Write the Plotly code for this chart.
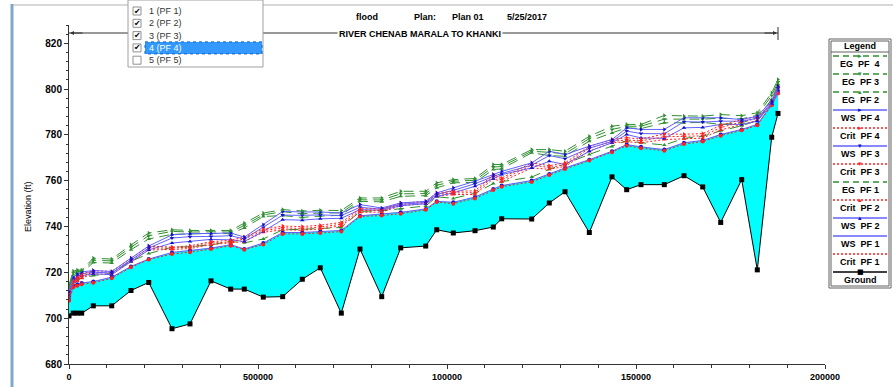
"""HEC-RAS style water surface profile: River Chenab, Marala to Khanki."""

import plotly.graph_objects as go

# ---- data ----
stations = [0, 1140, 2200, 3360, 6430, 11300, 16400, 21090, 27250, 32010, 37570, 42780, 46380, 51400,
            56530, 61720, 66480, 72040, 76980, 82730, 87750, 94370, 97280, 101670, 107410, 112250,
            114470, 122410, 127060, 131220, 137650, 143650, 147540, 151320, 157490, 162700, 167650,
            172410, 177960, 182090, 185900, 187570]

ground = [701.0, 702.2, 702.2, 702.2, 705.4, 705.4, 712.1, 715.6, 695.4, 697.5, 716.3, 712.7, 712.7, 709.2,
          709.4, 717.0, 722.0, 702.2, 730.2, 709.4, 730.7, 731.5, 738.6, 737.2, 738.2, 739.8,
          743.4, 743.3, 750.3, 755.2, 737.4, 761.7, 756.1, 758.3, 758.3, 762.2, 757.3,
          741.8, 760.5, 721.1, 779.0, 789.4]

ws_pf1 = [708.0, 714.1, 714.8, 715.4, 716.0, 717.9, 722.6, 725.8, 728.7, 729.6, 730.6, 732.1, 730.2, 732.8,
          737.4, 737.4, 737.9, 738.3, 744.7, 745.5, 746.2, 747.7, 751.0, 750.6, 752.9, 756.4,
          757.9, 760.1, 763.0, 765.6, 769.2, 772.9, 775.8, 774.8, 773.6, 776.6, 777.6,
          780.2, 782.4, 784.6, 793.3, 798.4]
ws_pf2 = [709.6, 716.0, 717.4, 718.5, 719.4, 719.0, 724.7, 729.8, 732.8, 733.5, 734.4, 734.2, 733.5, 737.9,
          743.0, 742.8, 743.4, 743.6, 747.4, 747.1, 749.1, 750.0, 753.2, 754.7, 757.6, 760.9,
          762.7, 765.6, 768.5, 767.1, 772.9, 776.6, 780.2, 778.7, 778.5, 783.1, 783.3,
          784.6, 784.6, 786.0, 793.6, 799.5]
ws_pf3 = [710.5, 716.9, 718.3, 719.4, 720.1, 719.7, 725.4, 730.6, 735.0, 735.6, 735.7, 736.0, 734.6, 739.6,
          745.0, 744.9, 745.1, 744.8, 748.4, 747.6, 749.7, 750.5, 754.0, 755.8, 758.7, 761.9,
          763.2, 766.8, 771.0, 769.6, 774.2, 777.2, 781.7, 780.6, 780.5, 785.8, 785.6,
          786.0, 786.0, 787.3, 794.1, 800.4]
ws_pf4 = [711.5, 717.8, 719.2, 720.2, 720.8, 720.4, 726.2, 731.5, 736.4, 736.9, 737.0, 737.2, 735.4, 740.8,
          746.6, 746.4, 746.4, 745.9, 749.6, 748.1, 750.3, 751.0, 754.7, 756.9, 759.8, 762.7,
          764.1, 767.8, 772.9, 771.4, 775.1, 778.0, 783.1, 782.4, 782.4, 787.5, 787.5,
          787.5, 786.7, 788.2, 794.8, 801.3]

eg_pf1 = [710.0, 716.5, 717.0, 717.4, 718.6, 719.6, 724.8, 728.2, 731.0, 731.2, 732.0, 733.5, 732.9, 734.6,
          738.6, 738.8, 739.2, 739.6, 746.6, 746.9, 747.8, 749.0, 753.0, 752.3, 754.5, 758.8,
          759.6, 761.6, 765.0, 767.3, 771.5, 775.0, 777.5, 776.6, 775.6, 778.5, 779.4,
          781.8, 784.0, 786.3, 794.4, 799.8]
eg_pf2 = [713.0, 719.0, 719.6, 719.8, 724.3, 724.1, 729.9, 734.6, 736.6, 736.8, 737.0, 736.9, 739.4, 744.4,
          744.8, 744.0, 744.6, 744.9, 751.0, 750.8, 753.2, 753.5, 756.9, 759.1, 759.3, 764.9,
          765.2, 772.2, 771.0, 770.7, 777.3, 780.9, 783.1, 782.8, 785.3, 785.3, 785.5,
          784.6, 785.3, 787.5, 795.5, 802.1]
eg_pf3 = [713.8, 719.8, 720.3, 720.4, 725.3, 725.0, 731.0, 736.0, 737.9, 737.6, 737.7, 737.6, 740.5, 745.1,
          746.5, 745.6, 745.9, 746.0, 751.7, 751.6, 754.3, 754.4, 758.0, 759.8, 760.2, 766.0,
          766.2, 772.9, 772.4, 771.8, 778.4, 782.4, 783.8, 783.8, 786.9, 786.8, 786.9,
          787.3, 787.0, 788.6, 797.2, 803.1]
eg_pf4 = [714.6, 720.6, 721.0, 721.0, 726.2, 725.8, 732.0, 737.2, 738.6, 738.3, 738.3, 738.3, 741.5, 745.9,
          747.4, 746.8, 747.1, 747.0, 752.5, 752.5, 755.4, 755.4, 759.1, 760.5, 761.0, 767.1,
          767.1, 773.6, 773.6, 772.9, 779.4, 783.8, 784.6, 784.6, 788.5, 788.2, 788.2,
          788.9, 788.4, 789.7, 798.4, 804.2]

crit_pf1 = [707.6, 713.5, 714.2, 714.8, 715.5, 717.4, 722.2, 725.6, 728.0, 728.8, 730.2, 731.6, 729.9, 732.2,
            736.8, 736.8, 737.2, 737.8, 744.4, 744.8, 745.6, 747.3, 750.7, 750.0, 752.3, 756.0,
            757.4, 759.5, 762.5, 765.1, 768.8, 772.5, 775.3, 774.2, 773.1, 776.0, 777.1,
            779.7, 782.0, 784.2, 793.0, 798.1]
crit_pf2 = [709.0, 714.9, 716.2, 717.5, 719.4, 719.0, 724.7, 729.8, 730.0, 730.4, 732.1, 732.8, 733.5, 737.5,
            738.6, 738.4, 739.0, 740.3, 746.2, 746.3, 749.1, 750.0, 753.2, 754.0, 754.0, 760.9,
            759.6, 765.6, 765.0, 766.3, 772.9, 776.6, 777.0, 776.6, 778.0, 778.3, 778.6,
            782.2, 784.6, 786.3, 793.6, 799.5]
crit_pf3 = [709.8, 715.6, 717.0, 718.3, 720.1, 719.7, 725.4, 730.6, 730.6, 731.0, 732.8, 733.3, 734.6, 738.2,
            739.4, 739.2, 739.8, 741.0, 747.0, 747.0, 749.7, 750.5, 754.0, 754.7, 754.8, 761.9,
            760.4, 766.8, 765.8, 767.0, 774.2, 777.2, 777.8, 777.4, 779.2, 779.3, 779.6,
            783.2, 785.7, 787.2, 794.1, 800.4]
crit_pf4 = [710.8, 716.5, 717.8, 719.2, 720.8, 720.4, 726.2, 731.5, 731.0, 731.6, 733.4, 734.0, 735.4, 738.9,
            740.2, 740.0, 740.6, 741.8, 747.8, 747.6, 750.3, 751.0, 754.7, 755.4, 755.6, 762.7,
            761.2, 767.8, 766.6, 767.8, 775.1, 778.0, 778.8, 778.2, 780.4, 780.3, 780.6,
            784.2, 786.7, 788.0, 794.8, 801.3]

x_tickvals = [0, 50000, 100000, 150000, 200000]
x_ticktext = ["0", "500000", "100000", "150000", "200000"]
y_tickvals = [680, 700, 720, 740, 760, 780, 800, 820]

profile_items = ["1 (PF 1)", "2 (PF 2)", "3 (PF 3)", "4 (PF 4)", "5 (PF 5)"]
profile_checked = [True, True, True, True, False]

legend_names = ["EG  PF  4", "EG  PF 3", "EG  PF 2", "WS  PF 4", "Crit  PF 4", "WS  PF 3", "Crit  PF 3",
                "EG  PF 1", "Crit  PF 2", "WS  PF 2", "WS  PF 1", "Crit  PF 1", "Ground"]

# ---- styles ----
FONT = "Arial, Liberation Sans, sans-serif"
EG_COLOR, WS_COLOR, WS_MARK, CRIT_COLOR = "#2f8f2f", "#6060ff", "#1010d0", "#ff2020"
W, H = 893, 387
L, R, T, B = 69, 68, 25, 23


def px(x):
    return (x - L) / (W - L - R)


def py(y):
    return (H - B - y) / (H - T - B)


def label(text, x, y, size=9, color="black", bold=False, **kw):
    return dict(text=text, xref="paper", yref="paper", x=px(x), y=py(y), showarrow=False,
                xanchor=kw.pop("xanchor", "center"), yanchor="middle",
                font=dict(family=kw.pop("family", FONT), size=size, color=color,
                          weight="bold" if bold else "normal"), **kw)


def line_trace(y, color, dash, symbol, mcolor=None, fill=None):
    return go.Scatter(
        x=stations, y=y, mode="lines+markers", fill=fill,
        fillcolor="#00ffff" if fill else None,
        line=dict(color=color, width=1, dash=dash),
        marker=dict(symbol=symbol, size=4, color=mcolor or color),
        showlegend=False, hoverinfo="skip",
    )


fig = go.Figure()
fig.add_trace(go.Scatter(x=stations, y=ground, mode="lines+markers", line=dict(color="black", width=1),
                         marker=dict(symbol="square", size=5, color="black"), showlegend=False))
fig.add_trace(line_trace(ws_pf1, WS_COLOR, "solid", "circle", WS_MARK, fill="tonexty"))
fig.add_trace(line_trace(crit_pf1, CRIT_COLOR, "2px,2px", "circle"))
fig.add_trace(line_trace(eg_pf1, EG_COLOR, "10px,6px", "triangle-up"))
for ws, crit, eg, sym in [(ws_pf2, crit_pf2, eg_pf2, "triangle-up"),
                          (ws_pf3, crit_pf3, eg_pf3, "triangle-down"),
                          (ws_pf4, crit_pf4, eg_pf4, "triangle-right")]:
    fig.add_trace(line_trace(crit, CRIT_COLOR, "2px,2px", sym))
    fig.add_trace(line_trace(ws, WS_COLOR, "solid", sym, WS_MARK))
    fig.add_trace(line_trace(eg, EG_COLOR, "10px,6px", sym))

shapes = []
annotations = []

# window frame bits
shapes.append(dict(type="line", xref="paper", yref="paper", x0=px(12), x1=px(12), y0=py(4), y1=py(387),
                   line=dict(color="#7fa7c9", width=3)))
shapes.append(dict(type="line", xref="paper", yref="paper", x0=px(13), x1=px(893), y0=py(5), y1=py(5),
                   line=dict(color="#b0b0b0", width=1)))

# titles
for text, xc in [("flood", 367), ("Plan:", 425), ("Plan 01", 468), ("5/25/2017", 527)]:
    annotations.append(label(text, xc, 17, bold=True))

# reach arrow
shapes.append(dict(type="line", xref="paper", yref="paper", x0=px(69), x1=px(778), y0=py(33), y1=py(33),
                   line=dict(color="#333", width=1)))
shapes.append(dict(type="line", xref="paper", yref="paper", x0=px(778), x1=px(778), y0=py(27), y1=py(40),
                   line=dict(color="#333", width=1)))
for xe, ax in [(70, 14), (777, -14)]:
    annotations.append(dict(text="", xref="paper", yref="paper", x=px(xe), y=py(33), ax=ax, ay=0,
                            showarrow=True, arrowhead=2, arrowsize=0.8, arrowwidth=1, arrowcolor="#333"))
annotations.append(label("RIVER CHENAB MARALA TO KHANKI", 420, 34, bold=True, bgcolor="white", borderpad=1))
annotations.append(label("Elevation (ft)", 28, 207, textangle=-90))

# profile selector list box
shapes.append(dict(type="rect", xref="paper", yref="paper", x0=px(128), x1=px(263), y0=py(0), y1=py(67),
                   fillcolor="white", line=dict(color="#a0a0a0", width=1), layer="above"))
for i, (item, checked) in enumerate(zip(profile_items, profile_checked)):
    yc = 11 + 12.3 * i
    if i == 3:
        shapes.append(dict(type="rect", xref="paper", yref="paper", x0=px(145), x1=px(262), y0=py(yc - 6),
                           y1=py(yc + 6), fillcolor="#3399ff", line=dict(color="#1060c0", width=1, dash="dot"),
                           layer="above"))
    shapes.append(dict(type="rect", xref="paper", yref="paper", x0=px(133), x1=px(141), y0=py(yc - 4),
                       y1=py(yc + 4), fillcolor="white", line=dict(color="#909090", width=1), layer="above"))
    if checked:
        annotations.append(label("✔", 137, yc, size=8, family="DejaVu Sans"))
    annotations.append(label(item, 147, yc, color="white" if i == 3 else "#333", xanchor="left"))

# legend box
shapes.append(dict(type="rect", xref="paper", yref="paper", x0=px(829), x1=px(891), y0=py(39), y1=py(288),
                   fillcolor="white", line=dict(color="#606060", width=1), layer="above"))
shapes.append(dict(type="rect", xref="paper", yref="paper", x0=px(831), x1=px(889), y0=py(41), y1=py(286),
                   line=dict(color="#606060", width=1), layer="above"))
shapes.append(dict(type="line", xref="paper", yref="paper", x0=px(831), x1=px(889), y0=py(52), y1=py(52),
                   line=dict(color="#606060", width=1), layer="above"))
annotations.append(label("Legend", 860, 46, bold=True))
legend_style = {"EG": (EG_COLOR, "6px,4px"), "WS": (WS_COLOR, "solid"), "Crit": (CRIT_COLOR, "2px,2px"),
                "Ground": ("black", "solid")}
legend_glyph = {"4": "▸", "3": "▾", "2": "▴", "1": "", "Ground": "■"}
for i, name in enumerate(legend_names):
    kind = name.split()[0]
    color, dash = legend_style[kind]
    yl, yt = 56 + 18 * i, 64 + 18 * i
    shapes.append(dict(type="line", xref="paper", yref="paper", x0=px(833), x1=px(887), y0=py(yl), y1=py(yl),
                       line=dict(color=color, width=1.5, dash=dash), layer="above"))
    glyph = legend_glyph["Ground"] if kind == "Ground" else legend_glyph[name.split()[-1]]
    if glyph:
        annotations.append(label(glyph, 860, yl, size=7, family="DejaVu Sans",
                                 color=WS_MARK if kind == "WS" else color))
    annotations.append(label(name, 860, yt, bold=True))

fig.update_layout(
    width=W, height=H,
    margin=dict(l=L, r=R, t=T, b=B, autoexpand=False),
    paper_bgcolor="white", plot_bgcolor="white",
    font=dict(family=FONT, color="black"),
    showlegend=False,
    shapes=shapes, annotations=annotations,
    xaxis=dict(range=[0, 200000], tickvals=x_tickvals, ticktext=x_ticktext, ticks="outside", ticklen=4,
               tickcolor="#333", showgrid=False, zeroline=False, showline=True, linecolor="#333",
               tickfont=dict(size=9, weight="bold"), automargin=False,
               minor=dict(dtick=10000, ticks="outside", ticklen=3, tickcolor="#333")),
    yaxis=dict(range=[680, 828], tickvals=y_tickvals, ticks="outside", ticklen=4, tickcolor="#333",
               showgrid=False, zeroline=False, showline=True, linecolor="#333",
               tickfont=dict(size=10, weight="bold"), automargin=False,
               minor=dict(dtick=4, ticks="outside", ticklen=2, tickcolor="#333")),
)

fig.write_html("out.html", config={"displayModeBar": False},
               post_script="document.body.style.margin='0px';")
